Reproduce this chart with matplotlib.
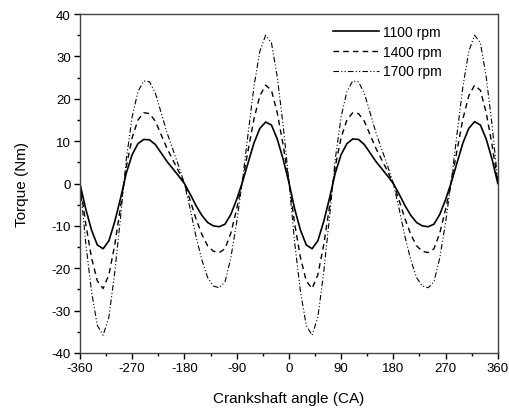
import numpy as np
import matplotlib
matplotlib.use('Agg')
import matplotlib.pyplot as plt
from matplotlib.ticker import MultipleLocator

plt.rcParams['font.family'] = ['Liberation Sans', 'DejaVu Sans']
plt.rcParams['axes.unicode_minus'] = False

# crank angle, every 10 deg from -360 to 360
angle = np.arange(-360, 361, 10)

torque_1100 = [
    0.0, -6.0, -11.0, -14.5, -15.4, -13.5, -9.0, -3.5, 2.5, 6.8,
    9.4, 10.4, 10.3, 9.2, 7.2, 5.2, 3.5, 1.8, 0.0, -2.5,
    -5.2, -7.5, -9.2, -10.0, -10.2, -9.6, -7.3, -3.8, 0.3, 5.0,
    9.6, 13.0, 14.5, 13.8, 10.5, 5.8,
    0.3, -6.0, -11.0, -14.5, -15.4, -13.5, -9.0, -3.5, 2.5, 6.8,
    9.4, 10.5, 10.4, 9.2, 7.2, 5.2, 3.5, 1.8, 0.0, -2.5,
    -5.2, -7.5, -9.2, -10.0, -10.2, -9.6, -7.3, -3.8, 0.3, 5.0,
    9.6, 13.0, 14.6, 13.8, 10.5, 5.8, 0.0]

torque_1400 = [
    0.3, -9.5, -17.5, -23.0, -24.8, -21.5, -14.5, -5.5, 4.0, 10.8,
    15.0, 16.7, 16.5, 14.7, 11.5, 8.3, 5.6, 2.9, 0.0, -4.0,
    -8.3, -12.0, -14.7, -16.0, -16.3, -15.4, -11.7, -6.1, 0.5, 8.0,
    15.3, 20.7, 23.2, 22.0, 16.7, 9.2,
    0.5, -9.5, -17.5, -23.0, -24.8, -21.5, -14.5, -5.5, 4.0, 10.8,
    15.0, 16.7, 16.5, 14.7, 11.5, 8.3, 5.6, 2.9, 0.0, -4.0,
    -8.3, -12.0, -14.7, -16.0, -16.3, -15.4, -11.7, -6.1, 0.5, 8.0,
    15.3, 20.7, 23.2, 22.0, 16.7, 9.2, 0.3]

torque_1700 = [
    0.5, -14.0, -25.5, -33.5, -35.8, -31.5, -21.0, -8.0, 5.8, 15.7,
    21.7, 24.2, 24.0, 21.3, 16.7, 12.0, 8.1, 4.2, 0.0, -6.0,
    -12.5, -18.0, -22.2, -24.2, -24.6, -23.2, -17.6, -9.2, 0.7, 12.0,
    23.0, 31.2, 35.0, 33.2, 25.2, 13.9,
    0.7, -14.0, -25.5, -33.5, -35.8, -31.5, -21.0, -8.0, 5.8, 15.7,
    21.7, 24.2, 24.0, 21.3, 16.7, 12.0, 8.1, 4.2, 0.0, -6.0,
    -12.5, -18.0, -22.2, -24.2, -24.6, -23.2, -17.6, -9.2, 0.7, 12.0,
    23.0, 31.2, 35.0, 33.2, 25.2, 13.9, 0.5]

fig = plt.figure(figsize=(5.09, 4.10), dpi=100)
ax = fig.add_axes([0.157, 0.1366, 0.821, 0.8268])

ax.plot(angle, torque_1100, color='black', lw=1.2, ls='-', label='1100 rpm')
ax.plot(angle, torque_1400, color='black', lw=1.0, ls=(0, (4, 3)), label='1400 rpm')
ax.plot(angle, torque_1700, color='black', lw=0.8, ls=(0, (5, 2, 1, 2, 1, 2)), label='1700 rpm')

ax.set_xlim(-360, 360)
ax.set_ylim(-40, 40)
ax.xaxis.set_major_locator(MultipleLocator(90))
ax.xaxis.set_minor_locator(MultipleLocator(45))
ax.yaxis.set_major_locator(MultipleLocator(10))
ax.yaxis.set_minor_locator(MultipleLocator(5))
ax.tick_params(which='major', direction='out', length=4.5, width=1, labelsize=9.5,
               top=False, right=False, pad=2)
ax.tick_params(which='minor', direction='out', length=2.5, width=1, top=False, right=False)
for s in ax.spines.values():
    s.set_color('#444444')
    s.set_linewidth(1)

ax.set_xlabel('Crankshaft angle (CA)', fontsize=11, labelpad=12)
ax.set_ylabel('Torque (Nm)', fontsize=11, labelpad=16)

ax.legend(loc='upper right', bbox_to_anchor=(0.895, 1.005), frameon=False, fontsize=10,
          handlelength=3.3, handletextpad=0.3, labelspacing=0.42)

fig.savefig('out.png', dpi=100)
